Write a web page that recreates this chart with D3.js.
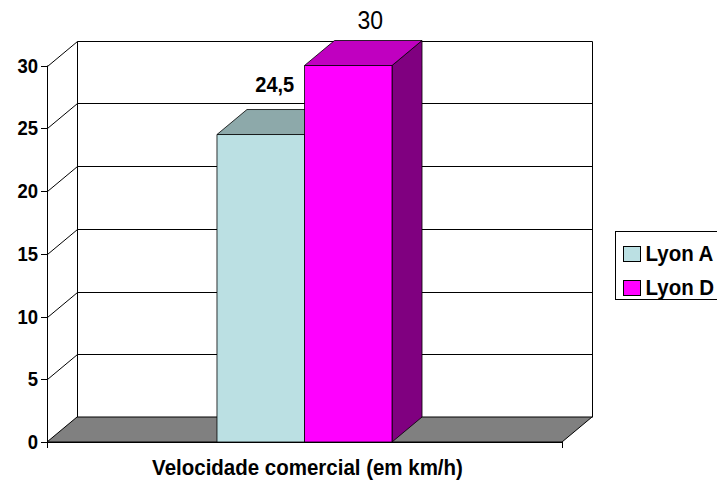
<!DOCTYPE html>
<html>
<head>
<meta charset="utf-8">
<script src="https://cdn.jsdelivr.net/npm/d3@7"></script>
<style>
  html, body { margin: 0; padding: 0; background: #fff; }
  svg { display: block; font-family: "Liberation Sans", Arial, sans-serif; }
</style>
</head>
<body>
<svg id="chart" width="717" height="481"></svg>
<script>
// Chart data
const categories = ["Velocidade comercial (em km/h)"];
const seriesNames = ["Lyon A", "Lyon D"];
const seriesValues = [24.5, 30];
const valueLabels = ["24,5", "30"];
const yTicks = [0, 5, 10, 15, 20, 25, 30];

// Per-series colours: front, top, side
const seriesColors = [
  { front: "#bbe0e3", top: "#8da9aa", side: "#5e7172" },
  { front: "#ff00ff", top: "#c000c0", side: "#800080" }
];
// Per-series value-label styling
const labelStyles = [
  { weight: "bold", size: 20, ox: 14, oy: -43 },
  { weight: "normal", size: 23, ox: 22, oy: -37 }
];

const svg = d3.select("#chart");
const depth = { dx: 30, dy: -25 };

const y = d3.scaleLinear().domain([0, 30]).range([442, 65.5]);
const x0 = d3.scaleBand().domain(categories).range([47, 562]).paddingOuter(0.971).paddingInner(0);
const x1 = d3.scaleBand().domain(seriesNames).range([0, x0.bandwidth()]);

const xL = 47, xR = 562, y0 = y(0), yTop = y(30);

// Text drawn slightly taller than wide
function stretched(sel, x, yy) {
  return sel.attr("transform", `translate(${x},${yy}) scale(1,1.1)`);
}

// Back wall gridlines and side wall diagonals
const grid = svg.append("g").attr("stroke", "#000").attr("stroke-width", 1).attr("fill", "none");
yTicks.filter(t => t > 0).forEach(t => {
  const yy = Math.round(y(t)) + 0.5;
  const yb = Math.round(y(t) + depth.dy) + 0.5;
  grid.append("line").attr("x1", xL + depth.dx + 0.5).attr("x2", xR + depth.dx + 0.5)
    .attr("y1", yb).attr("y2", yb);
  grid.append("line").attr("x1", xL + 0.5).attr("y1", yy)
    .attr("x2", xL + depth.dx + 0.5).attr("y2", yb);
});
// Back wall vertical edges
grid.append("line").attr("x1", xL + depth.dx + 0.5).attr("x2", xL + depth.dx + 0.5)
  .attr("y1", Math.round(yTop + depth.dy) + 0.5).attr("y2", Math.round(y0 + depth.dy) + 0.5);
grid.append("line").attr("x1", xR + depth.dx + 0.5).attr("x2", xR + depth.dx + 0.5)
  .attr("y1", Math.round(yTop + depth.dy) + 0.5).attr("y2", Math.round(y0 + depth.dy) + 0.5);

// Floor
svg.append("polygon")
  .attr("points", [[xL, y0], [xR, y0], [xR + depth.dx, y0 + depth.dy], [xL + depth.dx, y0 + depth.dy]].map(p => p.join(",")).join(" "))
  .attr("fill", "#808080").attr("stroke", "#000").attr("stroke-width", 1);

// Bars (front, top, side faces)
const cat = categories[0];
seriesNames.forEach((name, i) => {
  const v = seriesValues[i];
  const bx = x0(cat) + x1(name), bw = x1.bandwidth();
  const by = y(v), c = seriesColors[i];
  const g = svg.append("g").attr("stroke", "#000").attr("stroke-width", 0.8).attr("stroke-linejoin", "round");
  g.append("polygon")
    .attr("points", [[bx + bw, by], [bx + bw + depth.dx, by + depth.dy], [bx + bw + depth.dx, y0 + depth.dy], [bx + bw, y0]].map(p => p.join(",")).join(" "))
    .attr("fill", c.side);
  g.append("polygon")
    .attr("points", [[bx, by], [bx + depth.dx, by + depth.dy], [bx + bw + depth.dx, by + depth.dy], [bx + bw, by]].map(p => p.join(",")).join(" "))
    .attr("fill", c.top);
  g.append("rect").attr("x", bx).attr("y", by).attr("width", bw).attr("height", y0 - by)
    .attr("fill", c.front);
});

// Value labels
seriesNames.forEach((name, i) => {
  const s = labelStyles[i];
  const cx = x0(cat) + x1(name) + x1.bandwidth() / 2;
  stretched(svg.append("text"), cx + s.ox, y(seriesValues[i]) + s.oy)
    .attr("text-anchor", "middle")
    .attr("font-size", s.size).attr("font-weight", s.weight).attr("fill", "#000")
    .text(valueLabels[i]);
});

// Value axis
const axis = svg.append("g");
axis.append("line").attr("x1", xL + 0.5).attr("x2", xL + 0.5).attr("y1", yTop).attr("y2", y0 + 6)
  .attr("stroke", "#000");
axis.append("line").attr("x1", xL).attr("x2", xR).attr("y1", Math.round(y0) + 0.5).attr("y2", Math.round(y0) + 0.5)
  .attr("stroke", "#000");
axis.append("line").attr("x1", xR + 0.5).attr("x2", xR + 0.5).attr("y1", y0).attr("y2", y0 + 6)
  .attr("stroke", "#000");
yTicks.forEach(t => {
  const yy = Math.round(y(t)) + 0.5;
  axis.append("line").attr("x1", xL - 6).attr("x2", xL).attr("y1", yy).attr("y2", yy).attr("stroke", "#000");
  stretched(axis.append("text"), xL - 9, y(t) + 7)
    .attr("text-anchor", "end").attr("font-size", 18.5).attr("font-weight", "bold").text(t);
});

// Category axis title
stretched(svg.append("text"), (xL + xR) / 2 + 3, 475)
  .attr("text-anchor", "middle").attr("font-size", 20.5).attr("font-weight", "bold")
  .text(cat);

// Legend
const lg = svg.append("g").attr("transform", "translate(615.5,231.5)");
lg.append("rect").attr("width", 120).attr("height", 68).attr("fill", "#fff").attr("stroke", "#000");
seriesNames.forEach((name, i) => {
  const row = lg.append("g").attr("transform", `translate(8,${15 + i * 34})`);
  row.append("rect").attr("width", 17).attr("height", 15).attr("fill", seriesColors[i].front).attr("stroke", "#000");
  stretched(row.append("text"), 22, 14.5).attr("font-size", 20.5).attr("font-weight", "bold").text(name);
});
</script>
</body>
</html>
